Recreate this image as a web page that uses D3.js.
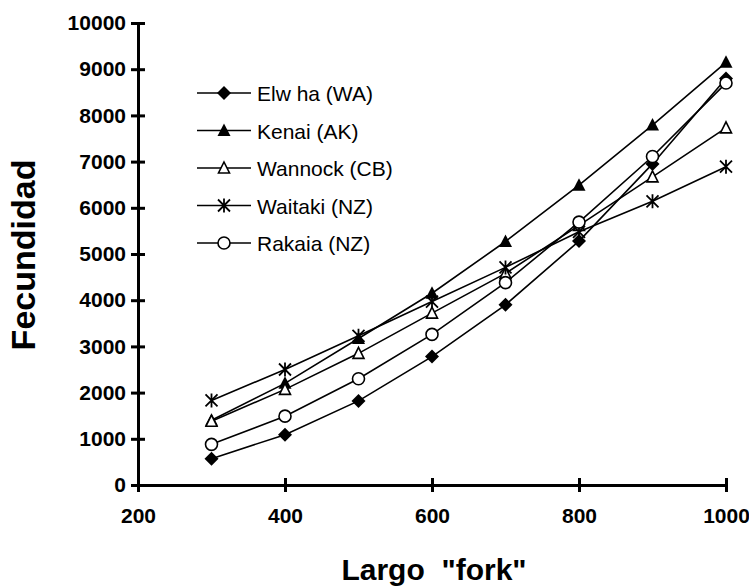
<!DOCTYPE html>
<html>
<head>
<meta charset="utf-8">
<script src="https://cdn.jsdelivr.net/npm/d3@7"></script>
<style>
  html, body { margin: 0; padding: 0; background: #fff; }
  svg { display: block; font-family: "Liberation Sans", Arial, sans-serif; }
</style>
</head>
<body>
<svg id="chart" width="749" height="586"></svg>
<script>
// Fork length classes (x) and fecundity per river population
const largo = [300, 400, 500, 600, 700, 800, 900, 1000];
const elwha   = [570, 1090, 1820, 2780, 3900, 5280, 6950, 8800];
const kenai   = [1400, 2200, 3170, 4150, 5270, 6490, 7790, 9150];
const wannock = [1380, 2070, 2850, 3720, 4580, 5620, 6670, 7730];
const waitaki = [1830, 2500, 3230, 3970, 4710, 5480, 6140, 6890];
const rakaia  = [880, 1490, 2300, 3260, 4380, 5690, 7110, 8700];

const xTicks = [200, 400, 600, 800, 1000];
const yTicks = [0, 1000, 2000, 3000, 4000, 5000, 6000, 7000, 8000, 9000, 10000];

const series = [
  { name: "Elw ha (WA)",  values: elwha,   marker: "diamond" },
  { name: "Kenai (AK)",   values: kenai,   marker: "triFilled" },
  { name: "Wannock (CB)", values: wannock, marker: "triOpen" },
  { name: "Waitaki (NZ)", values: waitaki, marker: "star" },
  { name: "Rakaia (NZ)",  values: rakaia,  marker: "circle" }
];

const FONT = "Liberation Sans, Arial, sans-serif";
const svg = d3.select("#chart");
const x = d3.scaleLinear().domain([200, 1000]).range([138, 726]);
const y = d3.scaleLinear().domain([0, 10000]).range([485, 23]);

// Axes: tick marks cross the axis line
const xAxis = d3.axisBottom(x).tickValues(xTicks).tickSize(0).tickPadding(23).tickFormat(d3.format("d"));
const gx = svg.append("g").attr("transform", `translate(0,${y(0)})`).call(xAxis);
gx.select(".domain").attr("stroke", "#000").attr("stroke-width", 3);
gx.selectAll(".tick line").remove();
gx.selectAll(".tick").append("line").attr("y1", -7).attr("y2", 7).attr("stroke", "#000").attr("stroke-width", 3);
gx.selectAll(".tick text").attr("font-size", 21).attr("font-weight", "bold").attr("fill", "#000")
  .attr("font-family", FONT);

const yAxis = d3.axisLeft(y).tickValues(yTicks).tickSize(0).tickPadding(12).tickFormat(d3.format("d"));
const gy = svg.append("g").attr("transform", `translate(${x(200)},0)`).call(yAxis);
gy.select(".domain").attr("stroke", "#000").attr("stroke-width", 3);
gy.selectAll(".tick line").remove();
gy.selectAll(".tick").append("line").attr("x1", -7).attr("x2", 7).attr("stroke", "#000").attr("stroke-width", 3);
gy.selectAll(".tick text").attr("font-size", 21).attr("font-weight", "bold").attr("fill", "#000")
  .attr("font-family", FONT);

// Axis titles
svg.append("text").attr("x", 434).attr("y", 580).attr("text-anchor", "middle")
  .attr("font-size", 30).attr("font-weight", "bold").attr("font-family", FONT)
  .style("white-space", "pre").text('Largo  "fork"');
svg.append("text").attr("transform", "translate(35,255) rotate(-90)").attr("text-anchor", "middle")
  .attr("font-size", 34).attr("font-weight", "bold").attr("font-family", FONT).text("Fecundidad");

// Marker drawing
function drawMarker(g, type) {
  if (type === "diamond") {
    g.append("path").attr("d", "M0,-7L7,0L0,7L-7,0Z").attr("fill", "#000");
  } else if (type === "triFilled") {
    g.append("path").attr("d", "M0,-7L6.5,5.5L-6.5,5.5Z").attr("fill", "#000");
  } else if (type === "triOpen") {
    g.append("path").attr("d", "M0,-6L5.5,5L-5.5,5Z").attr("fill", "#fff").attr("stroke", "#000").attr("stroke-width", 1.6);
  } else if (type === "star") {
    g.append("path").attr("d", "M0,-7L0,7M-6,-6L6,6M-6,6L6,-6").attr("stroke", "#000").attr("stroke-width", 1.8).attr("fill", "none");
  } else if (type === "circle") {
    g.append("circle").attr("r", 6).attr("fill", "#fff").attr("stroke", "#000").attr("stroke-width", 1.6);
  }
}

const line = d3.line().x(d => x(d[0])).y(d => y(d[1]));

series.forEach(s => {
  const pts = largo.map((l, i) => [l, s.values[i]]);
  svg.append("path").datum(pts).attr("d", line).attr("fill", "none").attr("stroke", "#000").attr("stroke-width", 1.6);
});
series.forEach(s => {
  largo.forEach((l, i) => {
    const g = svg.append("g").attr("transform", `translate(${x(l)},${y(s.values[i])})`);
    drawMarker(g, s.marker);
  });
});

// Legend
const legend = svg.append("g");
series.forEach((s, i) => {
  const yy = 93 + i * 37.5;
  legend.append("line").attr("x1", 197).attr("x2", 251).attr("y1", yy).attr("y2", yy)
    .attr("stroke", "#000").attr("stroke-width", 1.6);
  const g = legend.append("g").attr("transform", `translate(224,${yy})`);
  drawMarker(g, s.marker);
  legend.append("text").attr("x", 257).attr("y", yy + 8).attr("font-size", 21)
    .attr("font-family", FONT).attr("fill", "#000").text(s.name);
});
</script>
</body>
</html>
